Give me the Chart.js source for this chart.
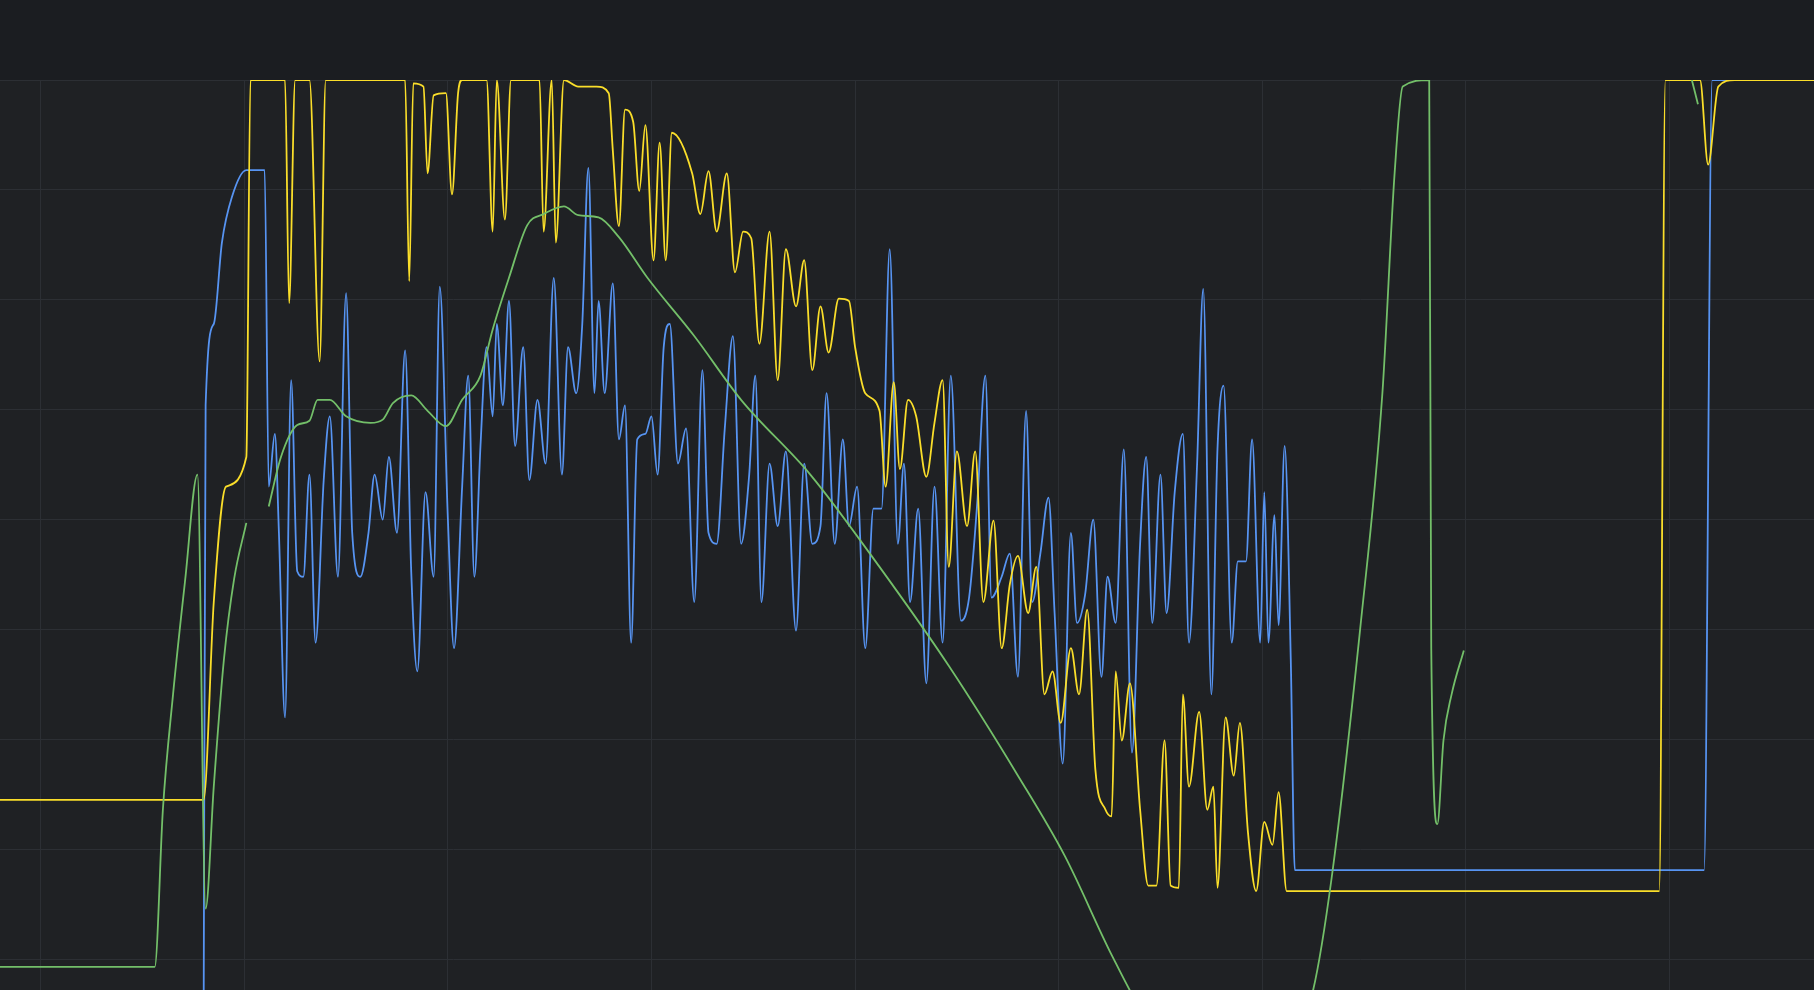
<!DOCTYPE html>
<html>
<head>
<meta charset="utf-8">
<script src="https://cdn.jsdelivr.net/npm/chart.js@4"></script>
<style>
  html, body { margin: 0; padding: 0; background: #1b1d21; overflow: hidden; }
  #wrap { width: 1814px; height: 990px; }
</style>
</head>
<body>
<div id="wrap"><canvas id="grafico"></canvas></div>
<script>
// yellow series
const yellowX = [-2,8,8.5,9.1,10.1,10.3,12,12.2,12.5,13.2,13.7,14,17.9,18.1,18.3,18.8,19,19.3,19.9,20.2,20.5,20.7,21.9,22.2,22.4,22.8,23.1,24.5,24.7,25.1,25.3,25.7,26.4,27.3,27.9,28.1,28.4,28.7,29.1,29.4,29.7,30.1,30.4,30.7,31,32,32.4,32.8,33.2,33.7,34.1,34.5,34.9,35.3,35.8,36.2,36.6,37.1,37.5,37.9,38.3,38.7,39.2,39.7,40,40.5,41.2,41.5,41.9,42.2,42.6,43,43.5,43.9,44.3,44.6,45,45.5,45.9,46.3,46.8,47.2,47.6,48,48.5,48.9,49.3,49.7,50.1,50.6,51,51.4,51.8,52.3,52.6,52.8,53.1,53.5,54,54.4,54.8,55.2,55.5,55.9,56.1,56.4,56.9,57.3,57.6,57.8,58.2,58.6,58.9,59.3,59.7,60.1,60.5,60.8,61.2,61.6,79.5,79.8,81.5,81.9,82.4,83.2,87.1];
const yellowY = [34.5,34.5,52.5,63,65.7,100,100,79.7,100,100,74.4,100,100,81.7,99.7,99.4,91.5,98.6,98.8,89.6,98.8,100,100,86.2,100,87.3,100,100,86.2,100,85.2,100,99.4,99.4,98.8,93.6,86.7,97.3,96.2,89.9,95.9,83.6,94.3,83.6,95.2,91.5,87.8,91.7,86.2,91.5,82.5,86.2,85.6,76,86.2,72.7,84.6,79.4,83.6,73.6,79.4,75.2,80.1,79.9,75.7,71.5,69.9,63,72.5,64.6,70.9,69.4,63.9,68.8,72.7,55.7,66.2,59.4,66.2,52.5,59.9,48.3,54.1,56.7,51.5,55.7,44.1,46.2,41.5,48.3,44.1,51.8,37.3,33.6,33,46.2,39.9,45.1,33.6,26.7,26.7,39.9,26.7,26.5,44.1,35.7,42.5,33.6,35.7,26.5,42,36.7,41.5,31.5,26.2,32.5,30.4,35.2,26.2,26.2,26.2,100,100,92.3,99.4,100,100];

// blue series
const blueX = [8,8.1,8.5,8.9,9.4,10.1,11,11.2,11.5,11.7,12,12.3,12.6,12.9,13.2,13.5,13.9,14.2,14.6,15,15.3,15.7,16.1,16.4,16.8,17.1,17.5,17.9,18.2,18.5,18.9,19.3,19.6,20,20.3,20.7,21,21.3,21.6,21.9,22.2,22.4,22.7,23,23.3,23.7,24,24.4,24.8,25.2,25.6,25.9,26.3,26.6,26.9,27.2,27.4,27.7,28.1,28.4,28.7,29,29.3,29.7,30,30.3,30.6,30.9,31.3,31.7,32.1,32.5,32.8,33.2,33.6,34,34.4,34.8,35.1,35.4,35.8,36.2,36.6,37.1,37.5,37.9,38.3,38.6,39,39.4,39.7,40.1,40.5,40.9,41.3,41.7,42.1,42.4,42.7,43.1,43.5,43.9,44.3,44.7,45.2,45.6,46,46.4,46.7,47.2,47.6,48,48.4,48.7,49.1,49.5,49.8,50.2,50.6,50.9,51.3,51.7,52.1,52.4,52.8,53.2,53.6,54,54.3,54.6,55,55.3,55.7,56.1,56.4,56.8,57.1,57.5,57.8,58.1,58.5,58.8,59.2,59.5,59.9,60.1,60.3,60.6,60.8,61.1,61.4,61.6,81.7,82.1,87.1];
const blueY = [12.5,70.4,77.8,85.2,89.4,91.8,91.8,63,67.8,58.8,42,72.7,55.3,54.8,64.1,48.8,63.6,69.4,54.8,80.6,58.8,54.8,58.8,64.1,60,65.7,58.8,75.4,55.2,46.2,62.5,54.8,81.2,60,48.3,63,73.1,54.8,66.7,75.7,69.4,77.8,70.4,79.9,66.7,75.7,63.6,70.9,65.1,82,64.1,75.7,71.5,77.8,92,71.5,79.9,71.5,81.5,67.3,70.4,48.8,67.3,67.8,69.4,64.1,75.7,77.8,65.1,68.3,52.5,73.6,58.8,57.8,68.3,76.7,57.8,64.1,73.1,52.5,65.1,59.4,66.2,49.9,65.1,57.8,59.4,71.5,57.8,67.3,59.4,63,48.3,61,61,84.6,57.8,65.1,52.5,61,45.1,63,48.8,73.1,50.8,52.9,61.5,73.1,52.9,54.8,56.9,45.7,69.9,52.5,56.9,62,51.5,37.8,58.8,50.6,53.2,60,45.7,54.8,50.6,66.4,38.8,57.8,65.7,50.6,64.1,51.5,62.5,67.8,48.8,65.1,81,44.1,66.4,72.2,48.8,56.2,56.2,67.3,48.8,62.5,48.8,60.4,50.4,66.7,47.3,28.1,28.1,100,100];

// green series (null = gap)
const greenX = [-2,5.6,6,6.5,7.1,7.7,8.1,8.5,9,9.5,10.1,10.6,11.2,11.8,12.6,13.2,13.6,14.2,15,16.2,16.8,17.3,18.2,19,19.9,20.7,21.6,22.2,23,23.9,24.7,25.7,26.4,27.4,28.4,29.8,32.1,34.4,37.8,41.2,44.6,48,50.3,52.6,54.3,57.5,61,62.5,63.4,64.8,65.9,66.5,66.9,68.2,68.3,68.6,68.9,69.3,69.9,75,81.1,81.4];
const greenY = [19.3,19.3,33.6,44.1,54.6,64.1,24.6,35.7,47.3,54.6,59.7,null,61.2,65.7,68.6,69,70.9,70.9,69.4,68.8,69.1,70.6,71.3,69.9,68.5,70.9,73.1,77.3,82,86.8,87.8,88.5,87.7,87.5,85.7,82,76.7,70.9,64.1,55.7,46.7,36.7,29.4,20.4,14.6,8,10,17.2,27.3,49.9,71.5,91.5,99.4,100,48.3,32.3,39.9,44.1,48.1,null,100,97.8];

const gridTicks = [0,10,20,30,40,50,60,70,80];
const valueTicks = [20,30,40,50,60,70,80,90,100];

function pts(xs, ys) { return xs.map((x, i) => ({ x: x, y: ys[i] })); }

const plotBg = {
  id: 'plotBg',
  beforeDraw(chart) {
    const { ctx, chartArea: a } = chart;
    ctx.save();
    ctx.fillStyle = '#1f2124';
    ctx.fillRect(a.left, a.top, a.right - a.left, a.bottom - a.top);
    ctx.restore();
  }
};

const lineStyle = { borderWidth: 1.8, pointRadius: 0, cubicInterpolationMode: 'monotone', spanGaps: false, fill: false };

new Chart(document.getElementById('grafico').getContext('2d'), {
  type: 'line',
  data: {
    datasets: [
      { label: 'green', data: pts(greenX, greenY), borderColor: '#73bf69', ...lineStyle },
      { label: 'yellow', data: pts(yellowX, yellowY), borderColor: '#fade2a', ...lineStyle },
      { label: 'blue', data: pts(blueX, blueY), borderColor: '#5794f2', ...lineStyle }
    ]
  },
  options: {
    responsive: true,
    maintainAspectRatio: false,
    animation: false,
    layout: { padding: { top: 80, left: 0, right: 0, bottom: 0 } },
    plugins: { legend: { display: false }, tooltip: { enabled: false } },
    scales: {
      x: {
        type: 'linear', min: -2, max: 87.1,
        afterBuildTicks: s => { s.ticks = gridTicks.map(v => ({ value: v })); },
        ticks: { display: false },
        grid: { color: '#2c2f34', drawTicks: false },
        border: { display: false }
      },
      y: {
        min: 17.2, max: 100,
        afterBuildTicks: s => { s.ticks = valueTicks.map(v => ({ value: v })); },
        ticks: { display: false },
        grid: { color: '#2c2f34', drawTicks: false },
        border: { display: false }
      }
    }
  },
  plugins: [plotBg]
});
</script>
</body>
</html>
